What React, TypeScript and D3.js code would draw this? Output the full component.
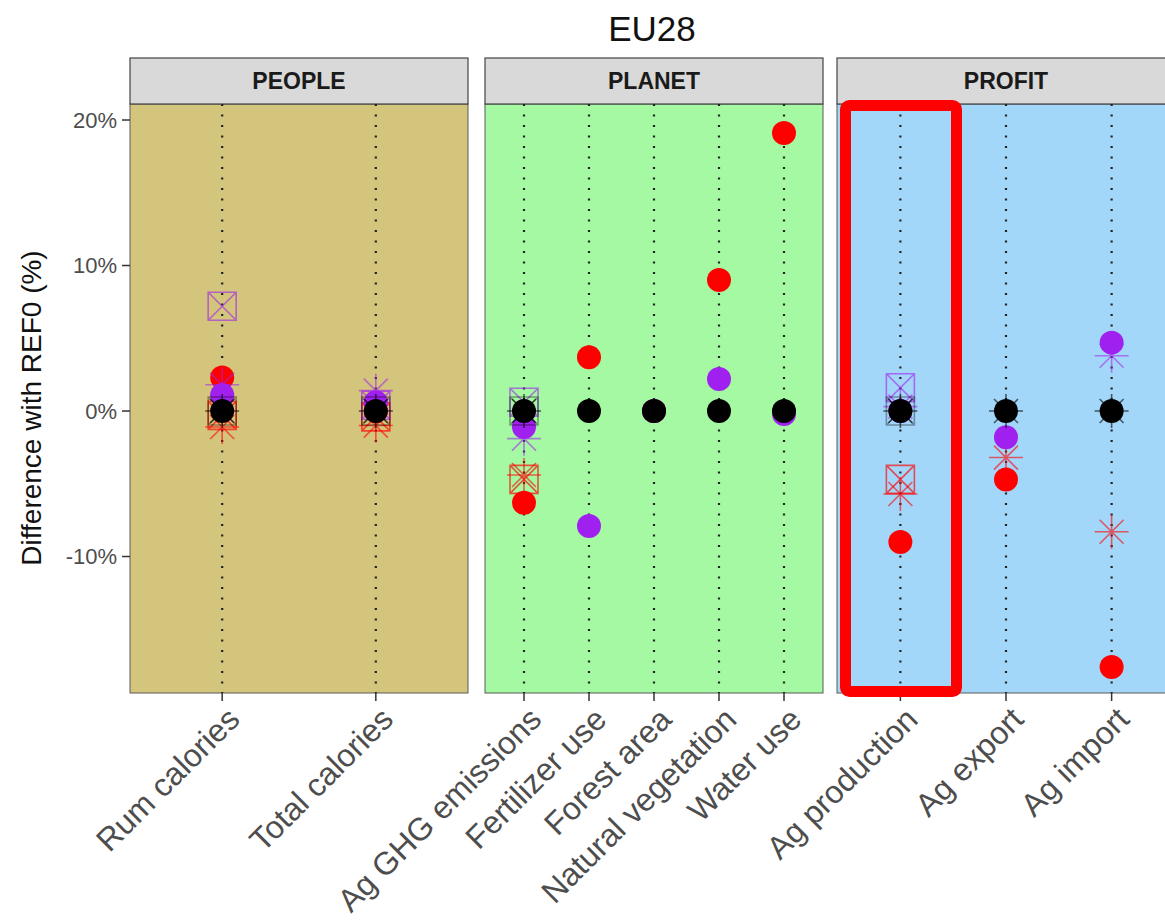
import { useEffect, useRef } from "react"
import * as d3 from "d3"

const title = "EU28"
const facets = ["PEOPLE", "PLANET", "PROFIT"]
const peopleCats = ["Rum calories", "Total calories"]
const planetCats = ["Ag GHG emissions", "Fertilizer use", "Forest area", "Natural vegetation", "Water use"]
const profitCats = ["Ag production", "Ag export", "Ag import"]
const yTicks = [-10, 0, 10, 20]
const yTitle = "Difference with REF0 (%)"

// % difference, order = peopleCats, planetCats, profitCats (null = no mark)
const redBox = [-0.3, -0.4, -4.7, null, null, null, null, -4.7, null, null]
const redStar = [-1.1, -1.0, -4.4, null, null, null, null, -5.7, -3.2, -8.3]
const redCircle = [2.3, 0, -6.3, 3.7, 0, 9.0, 19.1, -9.0, -4.7, -17.6]
const purpleBox = [7.2, 0.4, 0.6, null, null, null, null, 1.6, null, null]
const purpleStar = [1.8, 1.4, -1.9, null, null, null, null, 0.3, null, 3.8]
const purpleCircle = [1.1, 0.6, -1.1, -7.9, 0, 2.2, -0.2, 0, -1.8, 4.7]
const blackBox = [0, 0, 0, null, null, null, null, 0, null, null]
const blackStar = [0, 0, 0, null, null, null, null, 0, 0, 0]
const blackCircle = [0, 0, 0, 0, 0, 0, 0, 0, 0, 0]

const panelFills = ["#D3C57B", "#A4F9A2", "#A3D7F9"]

export default function App() {
  const ref = useRef<SVGSVGElement | null>(null)

  useEffect(() => {
    const svg = d3.select(ref.current)
    svg.selectAll("*").remove()

    const width = 1165
    const height = 923
    const font = "'Liberation Sans', Arial, sans-serif"
    const top = 104
    const bottom = 693
    const stripTop = 58
    const panelLeft = [130, 485, 837]
    const panelW = 338

    svg.attr("width", width).attr("height", height)

    const groups = [peopleCats, planetCats, profitCats]
    const allCats = [...peopleCats, ...planetCats, ...profitCats]

    const y = d3.scaleLinear().domain([-19.38, 21.1]).range([bottom, top])

    // x position of every category, one point scale per facet
    const xPos: Record<string, number> = {}
    groups.forEach((cats, i) => {
      const x = d3.scalePoint<string>()
        .domain(cats)
        .range([panelLeft[i], panelLeft[i] + panelW])
        .padding(0.6)
      cats.forEach(c => { xPos[c] = x(c)! })
    })

    svg.append("text")
      .attr("x", 652).attr("y", 41)
      .attr("text-anchor", "middle")
      .attr("font-family", font).attr("font-size", 35)
      .attr("fill", "#111")
      .text(title)

    groups.forEach((cats, i) => {
      const x0 = panelLeft[i]
      svg.append("rect")
        .attr("x", x0).attr("y", top)
        .attr("width", panelW).attr("height", bottom - top)
        .attr("fill", panelFills[i])
        .attr("stroke", "#5a5a5a").attr("stroke-width", 1)

      svg.append("rect")
        .attr("x", x0).attr("y", stripTop)
        .attr("width", panelW).attr("height", top - stripTop)
        .attr("fill", "#D9D9D9")
        .attr("stroke", "#444").attr("stroke-width", 1.2)

      svg.append("text")
        .attr("x", x0 + panelW / 2).attr("y", (stripTop + top) / 2)
        .attr("dy", "0.36em")
        .attr("text-anchor", "middle")
        .attr("font-family", font).attr("font-size", 23).attr("font-weight", "bold")
        .attr("fill", "#1A1A1A")
        .text(facets[i])

      cats.forEach(c => {
        svg.append("line")
          .attr("x1", xPos[c]).attr("x2", xPos[c])
          .attr("y1", top).attr("y2", bottom)
          .attr("stroke", "#222").attr("stroke-width", 2.2)
          .attr("stroke-dasharray", "2,8.5")

        svg.append("line")
          .attr("x1", xPos[c]).attr("x2", xPos[c])
          .attr("y1", bottom).attr("y2", bottom + 8)
          .attr("stroke", "#333").attr("stroke-width", 1.5)

        svg.append("text")
          .attr("transform", `translate(${xPos[c] + 3},${bottom + 12}) rotate(-45)`)
          .attr("dy", "0.72em")
          .attr("text-anchor", "end")
          .attr("font-family", font).attr("font-size", 32)
          .attr("fill", "#4D4D4D")
          .text(c)
      })
    })

    // y axis
    yTicks.forEach(t => {
      svg.append("line")
        .attr("x1", 122).attr("x2", 130)
        .attr("y1", y(t)).attr("y2", y(t))
        .attr("stroke", "#333").attr("stroke-width", 1.5)
      svg.append("text")
        .attr("x", 117).attr("y", y(t))
        .attr("dy", "0.36em")
        .attr("text-anchor", "end")
        .attr("font-family", font).attr("font-size", 22)
        .attr("fill", "#4D4D4D")
        .text(`${t}%`)
    })

    svg.append("text")
      .attr("transform", `translate(41,408) rotate(-90)`)
      .attr("text-anchor", "middle")
      .attr("font-family", font).attr("font-size", 28)
      .attr("fill", "#111")
      .text(yTitle)

    // markers
    const series = [
      { values: redBox, color: "#FF0000", shape: "box", alpha: 0.65 },
      { values: redStar, color: "#FF0000", shape: "star", alpha: 0.6 },
      { values: redCircle, color: "#FF0000", shape: "circle", alpha: 1 },
      { values: purpleBox, color: "#A020F0", shape: "box", alpha: 0.6 },
      { values: purpleStar, color: "#A020F0", shape: "star", alpha: 0.55 },
      { values: purpleCircle, color: "#A020F0", shape: "circle", alpha: 1 },
      { values: blackBox, color: "#000000", shape: "box", alpha: 0.35 },
      { values: blackStar, color: "#000000", shape: "star", alpha: 0.6 },
      { values: blackCircle, color: "#000000", shape: "circle", alpha: 1 },
    ]

    const starPath = "M-17,0H17M0,-17V17M-12,-12L12,12M-12,12L12,-12"
    const boxPath = "M-14,-14H14V14H-14ZM-14,-14L14,14M-14,14L14,-14"

    const marks = svg.append("g")
    series.forEach(s => {
      const pts = allCats
        .map((c, i) => ({ c, v: s.values[i] }))
        .filter(d => d.v !== null) as { c: string, v: number }[]

      if (s.shape === "circle") {
        marks.selectAll(null)
          .data(pts)
          .enter()
          .append("circle")
          .attr("cx", d => xPos[d.c])
          .attr("cy", d => y(d.v))
          .attr("r", 12)
          .attr("fill", s.color)
          .attr("fill-opacity", s.alpha)
      } else {
        marks.selectAll(null)
          .data(pts)
          .enter()
          .append("path")
          .attr("transform", d => `translate(${xPos[d.c]},${y(d.v)})`)
          .attr("d", s.shape === "star" ? starPath : boxPath)
          .attr("fill", "none")
          .attr("stroke", s.color)
          .attr("stroke-opacity", s.alpha)
          .attr("stroke-width", 1.6)
      }
    })

    // red highlight box around Ag production
    svg.append("rect")
      .attr("x", 845.5).attr("y", 105.5)
      .attr("width", 111).attr("height", 586)
      .attr("rx", 4)
      .attr("fill", "none")
      .attr("stroke", "#FF0000")
      .attr("stroke-width", 11)
  }, [])

  return (
    <div style={{ position: "absolute", left: 0, top: 0 }}>
      <svg ref={ref} style={{ display: "block" }} />
    </div>
  )
}
